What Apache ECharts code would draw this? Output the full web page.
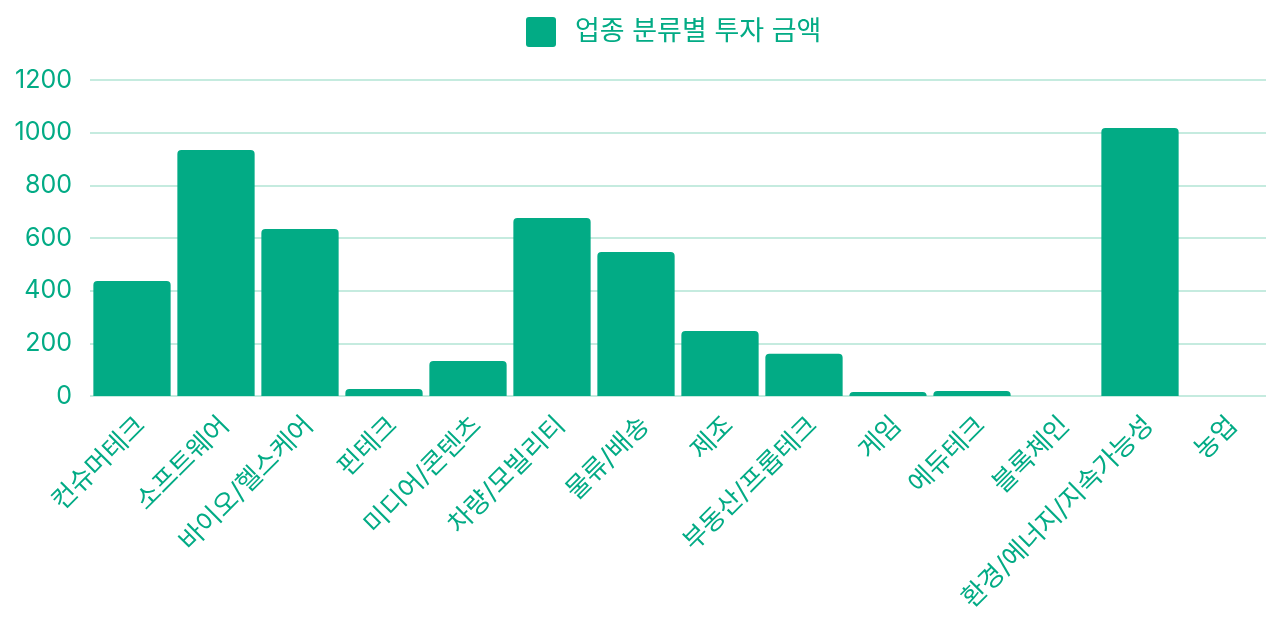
<!DOCTYPE html>
<html>
<head>
<meta charset="utf-8">
<script src="https://cdn.jsdelivr.net/npm/echarts@6/dist/echarts.min.js"></script>
<style>
  html, body { margin: 0; padding: 0; background: #fff; }
  #chart { width: 1271px; height: 621px; }
</style>
</head>
<body>
<div id="chart"></div>
<script>
const categories = [
  '컨슈머테크', '소프트웨어', '바이오/헬스케어', '핀테크', '미디어/콘텐츠',
  '차량/모빌리티', '물류/배송', '제조', '부동산/프롭테크', '게임',
  '에듀테크', '블록체인', '환경/에너지/지속가능성', '농업'
]
const amounts = [437, 934, 634, 27, 133, 676, 547, 247, 160, 15, 19, 0, 1018, 0]
const yTicks = { min: 0, max: 1200, step: 200 }
const seriesName = '업종 분류별 투자 금액'

const green = '#02AB85'
const font = 'Inter, "Noto Sans CJK KR", sans-serif'

const chart = echarts.init(document.getElementById('chart'))

chart.setOption({
  animation: false,
  textStyle: { fontFamily: font },
  legend: {
    top: 12,
    left: 521,
    itemWidth: 30,
    itemHeight: 30,
    icon: 'path://M3,0 L27,0 Q30,0 30,3 L30,27 Q30,30 27,30 L3,30 Q0,30 0,27 L0,3 Q0,0 3,0 Z',
    textStyle: { color: green, fontSize: 27, fontFamily: font, padding: [0, 0, 0, 14] },
    data: [seriesName],
  },
  grid: { left: 90, right: 5, top: 80, bottom: 225 },
  xAxis: {
    type: 'category',
    data: categories,
    axisTick: { show: false },
    axisLine: { show: false },
    axisLabel: {
      interval: 0,
      rotate: 45,
      color: green,
      fontSize: 26,
      margin: 16,
      verticalAlign: 'top', // 기울인 글자를 조금 아래로
      fontFamily: font,
    },
  },
  yAxis: {
    type: 'value',
    min: yTicks.min,
    max: yTicks.max,
    interval: yTicks.step,
    axisLine: { show: false },
    axisTick: { show: false },
    axisLabel: {
      color: green,
      fontSize: 25,
      margin: 18,
      fontFamily: font,
      formatter: v => String(v), // 천 단위 콤마 없이
    },
    splitLine: { lineStyle: { color: '#C5EBDF', width: 2 } },
  },
  series: [
    {
      name: seriesName,
      type: 'bar',
      data: amounts,
      barCategoryGap: '8%',
      itemStyle: { color: green, borderRadius: [4, 4, 0, 0] },
    },
  ],
})
</script>
</body>
</html>
